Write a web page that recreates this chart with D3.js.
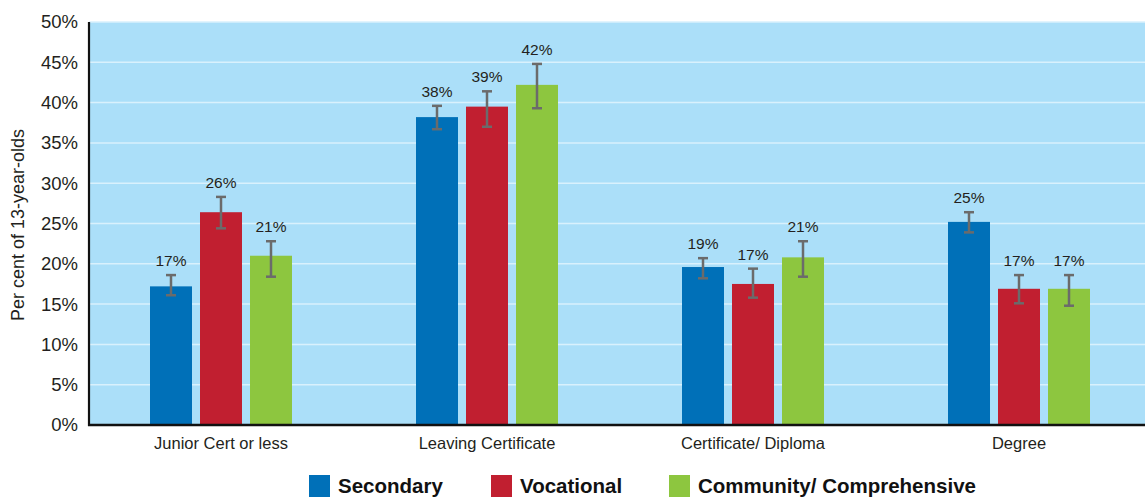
<!DOCTYPE html>
<html><head><meta charset="utf-8">
<script src="https://cdn.jsdelivr.net/npm/d3@7"></script>
<style>body{margin:0;background:#fff}svg{display:block;font-family:"Liberation Sans",Arial,sans-serif}</style>
</head><body><svg id="c" width="1145" height="498"></svg>
<script>
const categories = ["Junior Cert or less","Leaving Certificate","Certificate/ Diploma","Degree"];
const seriesNames = ["Secondary","Vocational","Community/ Comprehensive"];
const seriesColors = ["#0070b8","#c11f30","#8dc63f"];
const secondary = [17.2, 38.2, 19.6, 25.2];
const vocational = [26.4, 39.5, 17.5, 16.9];
const community = [21.0, 42.2, 20.8, 16.9];
const secondaryLow = [16.1, 36.7, 18.2, 23.9];
const secondaryHigh = [18.6, 39.6, 20.7, 26.4];
const vocationalLow = [24.4, 37.0, 15.8, 15.1];
const vocationalHigh = [28.3, 41.4, 19.4, 18.6];
const communityLow = [18.4, 39.3, 18.4, 14.8];
const communityHigh = [22.8, 44.8, 22.8, 18.6];
const valueLabels = [["17%","38%","19%","25%"],["26%","39%","17%","17%"],["21%","42%","21%","17%"]];
const yTicks = [0,5,10,15,20,25,30,35,40,45,50];

const values = [secondary, vocational, community];
const lows = [secondaryLow, vocationalLow, communityLow];
const highs = [secondaryHigh, vocationalHigh, communityHigh];

const svg = d3.select("#c");
const pLeft = 89, pTop = 22, pBottom = 425, pRight = 1145;
const y = d3.scaleLinear().domain([0,50]).range([pBottom, pTop]);
const x0 = d3.scaleBand().domain(categories).range([88, 1152]).paddingInner(0).paddingOuter(0);
const x1 = d3.scaleBand().domain(seriesNames).range([-71, 71]).paddingInner(0.16).paddingOuter(0);

svg.append("rect").attr("x", pLeft).attr("y", pTop).attr("width", pRight-pLeft).attr("height", pBottom-pTop).attr("fill", "#abdff9");

// gridlines
svg.append("g").selectAll("line").data(yTicks.filter(d=>d>0)).join("line")
  .attr("x1", pLeft).attr("x2", pRight).attr("y1", d=>y(d)).attr("y2", d=>y(d))
  .attr("stroke", "#d9f1fd").attr("stroke-width", 1.5);

// y axis labels
const yAxis = d3.axisLeft(y).tickValues(yTicks).tickFormat(d=>d+"%").tickSize(0).tickPadding(11);
const ya = svg.append("g").attr("transform", `translate(${pLeft},0)`).call(yAxis);
ya.select(".domain").remove();
ya.selectAll("text").attr("font-size", "18.5px").attr("fill", "#231f20").attr("font-family", "Liberation Sans, Arial, sans-serif");

// bars
const series = seriesNames.map((s,i)=>({name:s, i}));
categories.forEach((c,ci)=>{
  const g = svg.append("g").attr("transform", `translate(${x0(c)+x0.bandwidth()/2},0)`);
  series.forEach(s=>{
    const bx = x1(s.name);
    const bw = x1.bandwidth();
    g.append("rect").attr("x", bx).attr("width", bw)
      .attr("y", y(values[s.i][ci])).attr("height", y(0)-y(values[s.i][ci]))
      .attr("fill", seriesColors[s.i]);
    const cx = bx + bw/2;
    const e = g.append("g").attr("stroke", "#6b6b6b").attr("stroke-width", 2.5);
    e.append("line").attr("x1", cx).attr("x2", cx).attr("y1", y(lows[s.i][ci])).attr("y2", y(highs[s.i][ci]));
    e.append("line").attr("x1", cx-5).attr("x2", cx+5).attr("y1", y(lows[s.i][ci])).attr("y2", y(lows[s.i][ci]));
    e.append("line").attr("x1", cx-5).attr("x2", cx+5).attr("y1", y(highs[s.i][ci])).attr("y2", y(highs[s.i][ci]));
    g.append("text").attr("x", cx).attr("y", y(highs[s.i][ci]) - 9)
      .attr("text-anchor", "middle").attr("font-size", "15.5px").attr("fill", "#231f20")
      .text(valueLabels[s.i][ci]);
  });
});

// axes lines
svg.append("line").attr("x1", pLeft).attr("x2", pLeft).attr("y1", pTop).attr("y2", pBottom+1).attr("stroke", "#111").attr("stroke-width", 2.2);
svg.append("line").attr("x1", pLeft-1).attr("x2", pRight).attr("y1", pBottom).attr("y2", pBottom).attr("stroke", "#111").attr("stroke-width", 2.5);

// x labels
const xAxis = d3.axisBottom(x0).tickSize(0).tickPadding(12);
const xa = svg.append("g").attr("transform", `translate(0,${pBottom})`).call(xAxis);
xa.select(".domain").remove();
xa.selectAll("text").attr("font-size", "16.5px").attr("fill", "#231f20").attr("font-family", "Liberation Sans, Arial, sans-serif");

// y title
svg.append("text").attr("transform", "translate(24,225) rotate(-90)")
  .attr("text-anchor", "middle").attr("font-size", "18px").attr("fill", "#231f20")
  .text("Per cent of 13-year-olds");

// legend
const legendX = [309, 491, 669];
const lg = svg.append("g");
series.forEach(s=>{
  lg.append("rect").attr("x", legendX[s.i]).attr("y", 475).attr("width", 21).attr("height", 22).attr("fill", seriesColors[s.i]);
  lg.append("text").attr("x", legendX[s.i] + 29).attr("y", 493)
    .attr("font-size", "20.5px").attr("font-weight", "bold").attr("fill", "#111")
    .text(s.name);
});
</script></body></html>
